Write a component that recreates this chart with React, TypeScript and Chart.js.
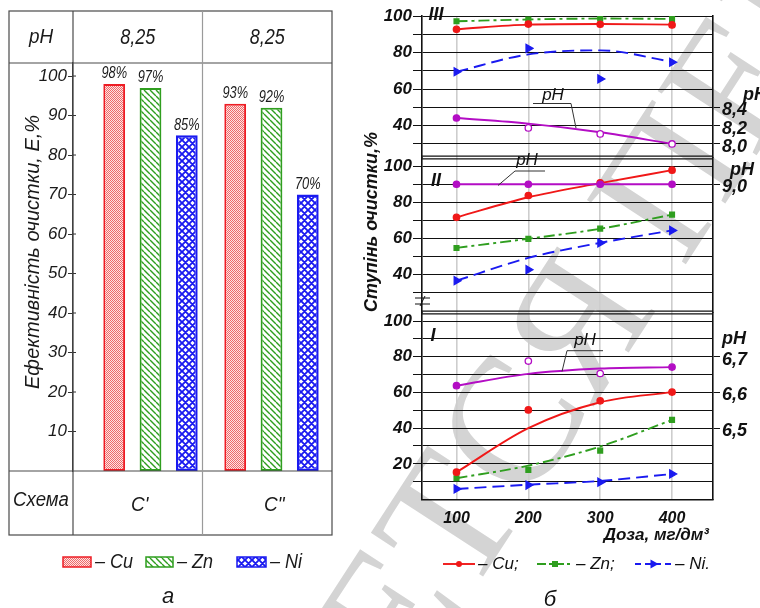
import React, { useEffect, useRef } from 'react';
import { Chart, registerables } from 'chart.js';
Chart.register(...registerables);

const SANS = '"Liberation Sans", Arial, Helvetica, sans-serif';
const SERIF = '"Liberation Serif", "DejaVu Serif", serif';

// ===== Panel а (bar chart) =====
const schemes = ["С'", 'С"'];
const phValues = ['8,25', '8,25'];
const metals = ['Cu', 'Zn', 'Ni'];
const cuEfficiency = [98, 93];
const znEfficiency = [97, 92];
const niEfficiency = [85, 70];
const efficiencyTicks = [10, 20, 30, 40, 50, 60, 70, 80, 90, 100];

// ===== Panel б (dose curves) =====
const doses = [100, 200, 300, 400];

// Region III
const cuIII = [92.7, 95.6, 95.5, 95.1];
const cuIIIfit = [92.7, 95.3, 95.6, 95.3];
const znIII = [97.1, 98.0, 98.7, 98.4];
const znIIIfit = [97.1, 98.1, 98.6, 98.4];
const niIII = [69.5, 82.3, 65.6, 74.7];
const niIIIfit = [69.5, 79.0, 81.2, 75.0];
const phIII = [8.284, 8.176, 8.11, 8.0];
const phIIIfit = [8.284, 8.222, 8.128, 8.002];
// Region II
const cuII = [71.7, 83.8, 90.8, 97.8];
const cuIIfit = [71.7, 82.8, 90.6, 97.8];
const znII = [54.8, 59.8, 65.5, 73.2];
const znIIfit = [54.8, 59.9, 65.4, 73.2];
const niII = [36.7, 42.8, 57.6, 64.5];
const niIIfit = [36.7, 49.3, 57.6, 64.5];
const phII = [9.0, 9.0, 9.0, 9.0];
const phIIfit = [9.0, 9.0, 9.0, 9.0];
// Region I
const cuI = [15.3, 50.2, 55.3, 60.2];
const cuIfit = [15.3, 40.0, 54.5, 60.2];
const znI = [11.9, 16.6, 27.4, 44.6];
const znIfit = [11.9, 19.0, 29.7, 44.6];
const niI = [5.9, 8.1, 9.7, 14.3];
const niIfit = [5.9, 8.3, 10.4, 14.3];
const phI = [6.619, 6.688, 6.653, 6.671];
const phIfit = [6.619, 6.652, 6.667, 6.671];

// axes
const doseRange = [52, 457];
const rangeIII = [22.6, 100];
const rangeII = [19.1, 104.8];
const rangeI = [0, 104.8];
const gridIII = [30, 40, 50, 60, 70, 80, 90, 100];
const gridII = [30, 40, 50, 60, 70, 80, 90, 100];
const gridI = [10, 20, 30, 40, 50, 60, 70, 80, 90, 100];
const phRangeIII = [7.852, 9.4];
const phRangeII = [8.291, 9.148];
const phRangeI = [6.3, 6.824];
const phTicksIII = [8.0, 8.2, 8.4];
const phTicksII = [9.0];
const phTicksI = [6.5, 6.6, 6.7];

const RED = '#f01818';
const GREEN = '#2f9e1f';
const BLUE = '#1a1af0';
const MAG = '#b30dc4';

function pat(kind: string, color: string): any {
  const c = document.createElement('canvas');
  const g = c.getContext('2d') as CanvasRenderingContext2D;
  if (kind === 'dots') {
    c.width = 2; c.height = 2;
    g.fillStyle = '#fde4e4'; g.fillRect(0, 0, 2, 2);
    g.fillStyle = '#ee6a6a'; g.fillRect(0, 0, 1, 1); g.fillRect(1, 1, 1, 1);
  } else {
    const s = kind === 'hatch' ? 6 : 7;
    c.width = s; c.height = s;
    g.fillStyle = '#ffffff'; g.fillRect(0, 0, s, s);
    g.strokeStyle = color; g.lineWidth = kind === 'hatch' ? 1.4 : 1.9;
    g.beginPath();
    for (let k = -1; k <= 1; k++) {
      g.moveTo(k * s, 0); g.lineTo(k * s + s, s);
      if (kind === 'cross') { g.moveTo(k * s + s, 0); g.lineTo(k * s, s); }
    }
    g.stroke();
  }
  return g.createPattern(c, 'repeat');
}

function txt(ctx: any, s: string, x: number, y: number, font: string, align = 'center', sx = 1, color = '#1a1a1a') {
  ctx.save();
  ctx.font = font; ctx.fillStyle = color; ctx.textAlign = align; ctx.textBaseline = 'middle';
  ctx.translate(x, y); ctx.scale(sx, 1); ctx.fillText(s, 0, 0);
  ctx.restore();
}
function seg(ctx: any, x1: number, y1: number, x2: number, y2: number) {
  ctx.beginPath(); ctx.moveTo(x1, y1); ctx.lineTo(x2, y2); ctx.stroke();
}

function leftConfig(): any {
  const pats = [pat('dots', RED), pat('hatch', GREEN), pat('cross', BLUE)];
  const borders = ['#ee1c24', GREEN, BLUE];
  const values = [cuEfficiency, znEfficiency, niEfficiency];
  const tablePlugin = {
    id: 'tableA',
    afterDraw(chart: any) {
      const ctx = chart.ctx; const ca = chart.chartArea; const ys = chart.scales.y;
      const top = ca.top - 52, bottom = ca.bottom + 64, left = ys.left, right = ca.right;
      const mid = (ca.left + ca.right) / 2;
      const colCenters = [(ca.left + mid) / 2, (mid + ca.right) / 2];
      ctx.save();
      ctx.strokeStyle = '#4a4a4a'; ctx.lineWidth = 1.2;
      ctx.strokeRect(left, top, right - left, bottom - top);
      seg(ctx, left, ca.top, right, ca.top);
      seg(ctx, left, ca.bottom, right, ca.bottom);
      seg(ctx, ca.left, top, ca.left, bottom);
      ctx.strokeStyle = '#9a9a9a';
      seg(ctx, mid, top, mid, bottom);
      // inner part of tick marks
      ctx.strokeStyle = '#333'; ctx.lineWidth = 1;
      for (const t of ys.ticks) {
        const y = ys.getPixelForValue(t.value);
        seg(ctx, ca.left, y, ca.left + 3, y);
      }
      // header / footer rows
      const it = (n: number) => `italic ${n}px ${SANS}`;
      txt(ctx, 'pH', (left + ca.left) / 2, (top + ca.top) / 2, it(21), 'center', 0.9);
      phValues.forEach((v, i) => txt(ctx, v, colCenters[i], (top + ca.top) / 2 + 1, it(22), 'center', 0.82));
      txt(ctx, 'Схема', (left + ca.left) / 2, ca.bottom + 29, it(20), 'center', 0.93);
      schemes.forEach((s, i) => txt(ctx, s, colCenters[i] + 2 + i * 5, ca.bottom + 34, it(20), 'center', 0.95));
      // value labels
      chart.data.datasets.forEach((ds: any, di: number) => {
        const meta = chart.getDatasetMeta(di);
        meta.data.forEach((el: any, i: number) => {
          txt(ctx, `${ds.data[i]}%`, el.x, el.y - 10, it(16), 'center', 0.8);
        });
      });
      // y title
      ctx.save();
      ctx.translate(33, 252); ctx.rotate(-Math.PI / 2);
      txt(ctx, 'Ефективність очистки, Е,%', 0, 0, it(20));
      ctx.restore();
      // legend
      const sw = [[63, 28], [146, 27], [237, 29]];
      metals.forEach((m, i) => {
        ctx.fillStyle = pats[i];
        ctx.fillRect(sw[i][0], 557, sw[i][1], 10);
        ctx.strokeStyle = borders[i]; ctx.lineWidth = 1.5;
        ctx.strokeRect(sw[i][0], 557, sw[i][1], 10);
        txt(ctx, `– ${m}`, sw[i][0] + sw[i][1] + 4, 562, it(20), 'left', 0.9);
      });
      txt(ctx, 'а', 168, 597, it(22));
      ctx.restore();
    },
  };
  return {
    type: 'bar',
    data: {
      labels: schemes,
      datasets: metals.map((m, i) => ({
        label: m, data: values[i], xAxisID: 'x', yAxisID: 'y',
        backgroundColor: pats[i], borderColor: borders[i],
        borderWidth: i === 2 ? 2.4 : 2, borderSkipped: false,
        categoryPercentage: 0.9, barPercentage: 0.6,
      })),
    },
    options: {
      responsive: false, animation: false, devicePixelRatio: 1,
      layout: { padding: { left: 9, right: 13, top: 63, bottom: 0 } },
      plugins: { legend: { display: false }, tooltip: { enabled: false } },
      scales: {
        x: {
          type: 'category', position: 'bottom', stack: 'B', stackWeight: 242, weight: 1,
          grid: { display: false, drawTicks: false }, border: { display: false },
          ticks: { display: false },
          afterFit: (s: any) => { s.height = 137; },
        },
        xpad: {
          type: 'linear', position: 'bottom', stack: 'B', stackWeight: 17, weight: 0,
          grid: { display: false, drawTicks: false }, border: { display: false },
          ticks: { display: false },
          afterFit: (s: any) => { s.height = 137; },
        },
        y: {
          min: 0, max: 103.3,
          afterBuildTicks: (s: any) => { s.ticks = efficiencyTicks.map((v) => ({ value: v })); },
          grid: { drawOnChartArea: false, tickLength: 5, color: '#333' },
          border: { color: '#333', width: 1.2 },
          ticks: { autoSkip: false, color: '#1a1a1a', font: { family: SANS, size: 17, style: 'italic' }, padding: 1 },
          afterFit: (s: any) => { s.width = 64; },
        },
      },
    },
    plugins: [tablePlugin],
  };
}

const xy = (vals: number[]) => doses.map((d, i) => ({ x: d, y: vals[i] }));

const styles: any = {
  cu: { color: RED, dash: [], ps: 'circle', r: 3.2, rot: 0 },
  zn: { color: GREEN, dash: [11, 4, 3, 4], ps: 'rect', r: 3.4, rot: 0 },
  ni: { color: BLUE, dash: [12, 6], ps: 'triangle', r: 4.6, rot: 90 },
  ph: { color: MAG, dash: [], ps: 'circle', r: 3.2, rot: 0 },
};

function series(kind: string, axis: string, pts: number[], fit: number[], fills?: string[]) {
  const st = styles[kind];
  return [
    {
      type: 'line', data: xy(pts), yAxisID: axis, showLine: false,
      pointStyle: st.ps, pointRotation: st.rot, pointRadius: st.r,
      pointBackgroundColor: fills || st.color, pointBorderColor: st.color, pointBorderWidth: 1.3,
    },
    {
      type: 'line', data: xy(fit), yAxisID: axis, borderColor: st.color, borderWidth: 1.9,
      borderDash: st.dash, pointRadius: 0, cubicInterpolationMode: 'monotone', fill: false,
    },
  ];
}

function rightConfig(): any {
  const bi = (n: number) => `italic bold ${n}px ${SANS}`;
  const it = (n: number) => `italic ${n}px ${SANS}`;
  const OFF = 345;
  const leftAxis = (range: number[], grid: number[], w: number, weight: number) => ({
    type: 'linear', position: 'left', stack: 'L', stackWeight: w, weight,
    min: range[0], max: range[1],
    afterBuildTicks: (s: any) => { s.ticks = grid.map((v) => ({ value: v })); },
    grid: { color: '#111', lineWidth: 1, tickLength: 9 },
    border: { color: '#111', width: 1.6 },
    ticks: {
      autoSkip: false,
      color: '#111', padding: 1, font: { family: SANS, size: 17, style: 'italic', weight: 'bold' },
      callback: (v: number) => (v % 20 === 0 ? String(v) : ''),
    },
    afterFit: (s: any) => { s.width = 60; },
  });
  const rightAxis = (range: number[], ticks: number[], w: number, weight: number) => ({
    type: 'linear', position: 'right', stack: 'R', stackWeight: w, weight,
    min: range[0], max: range[1],
    afterBuildTicks: (s: any) => { s.ticks = ticks.map((v) => ({ value: v })); },
    grid: { drawOnChartArea: false, color: '#111', tickLength: 7 },
    border: { color: '#111', width: 1.6 },
    ticks: {
      autoSkip: false, labelOffset: 3,
      color: '#111', padding: 2, font: { family: SANS, size: 18, style: 'italic', weight: 'bold' },
      callback: (v: number) => v.toFixed(1).replace('.', ','),
    },
    afterFit: (s: any) => { s.width = 40; },
  });

  const annot = {
    id: 'annB',
    afterDraw(chart: any) {
      const ctx = chart.ctx; const ca = chart.chartArea;
      const p = (x: number) => x - OFF;
      ctx.save();
      ctx.strokeStyle = '#111'; ctx.lineWidth = 1.4;
      for (const yb of [chart.scales.yIII.bottom, chart.scales.yII.bottom]) {
        seg(ctx, ca.left, yb - 1.4, ca.right, yb - 1.4);
        seg(ctx, ca.left, yb + 1.4, ca.right, yb + 1.4);
      }
      // axis break mark
      ctx.lineWidth = 1;
      seg(ctx, ca.left - 7, 298, ca.left + 8, 298);
      seg(ctx, ca.left - 7, 304, ca.left + 8, 304);
      seg(ctx, ca.left - 2, 306, ca.left + 3, 296);
      // roman numerals
      txt(ctx, 'III', p(436), 15, bi(18), 'center', 1, '#111');
      txt(ctx, 'II', p(436), 181, bi(18), 'center', 1, '#111');
      txt(ctx, 'I', p(433), 336, bi(18), 'center', 1, '#111');
      // pH callouts
      ctx.strokeStyle = '#333'; ctx.lineWidth = 1;
      txt(ctx, 'pH', p(553), 95, it(17), 'center', 1, '#111');
      seg(ctx, p(533), 103.5, p(571), 103.5); seg(ctx, p(571), 103.5, p(576), 128);
      txt(ctx, 'pH', p(527), 160, it(17), 'center', 1, '#111');
      seg(ctx, p(515), 171, p(545), 171); seg(ctx, p(515), 171, p(498), 185.5);
      txt(ctx, 'pH', p(585), 340, it(17), 'center', 1, '#111');
      seg(ctx, p(567), 350.7, p(603), 350.7); seg(ctx, p(567), 350.7, p(562), 371.5);
      // right axis titles
      txt(ctx, 'pH', p(743), 95, bi(18), 'left', 1, '#111');
      txt(ctx, 'pH', p(730), 170, bi(18), 'left', 1, '#111');
      txt(ctx, 'pH', p(722), 339, bi(18), 'left', 1, '#111');
      // axis titles
      ctx.save();
      ctx.translate(p(372), 222); ctx.rotate(-Math.PI / 2);
      txt(ctx, 'Ступінь очистки,%', 0, 0, bi(18), 'center', 1, '#111');
      ctx.restore();
      txt(ctx, 'Доза, мг/дм³', p(709), 535, bi(17), 'right', 1, '#111');
      // legend
      const ly = 564;
      const items = [
        { k: 'cu', x1: 443, x2: 475, label: '– Cu;' },
        { k: 'zn', x1: 537, x2: 573, label: '– Zn;' },
        { k: 'ni', x1: 635, x2: 672, label: '– Ni.' },
      ];
      for (const itm of items) {
        const st = styles[itm.k];
        ctx.save();
        ctx.strokeStyle = st.color; ctx.fillStyle = st.color; ctx.lineWidth = 1.9;
        ctx.setLineDash(itm.k === 'zn' ? [9, 3, 3, 3] : itm.k === 'ni' ? [6, 4] : []);
        seg(ctx, p(itm.x1), ly, p(itm.x2), ly);
        ctx.setLineDash([]);
        const cx = p((itm.x1 + itm.x2) / 2);
        ctx.beginPath();
        if (itm.k === 'cu') { ctx.arc(cx, ly, 3, 0, Math.PI * 2); }
        else if (itm.k === 'zn') { ctx.rect(cx - 3, ly - 3, 6, 6); }
        else { ctx.moveTo(cx + 5, ly); ctx.lineTo(cx - 3, ly - 4.5); ctx.lineTo(cx - 3, ly + 4.5); ctx.closePath(); }
        ctx.fill();
        ctx.restore();
        txt(ctx, itm.label, p(itm.x2 + 3), ly, it(17), 'left', 1, '#111');
      }
      txt(ctx, 'б', p(550), 600, it(22), 'center', 1, '#111');
      ctx.restore();
    },
  };

  return {
    type: 'line',
    data: {
      datasets: [
        ...series('ph', 'pIII', phIII, phIIIfit, [MAG, '#fff', '#fff', '#fff']),
        ...series('cu', 'yIII', cuIII, cuIIIfit),
        ...series('zn', 'yIII', znIII, znIIIfit),
        ...series('ni', 'yIII', niIII, niIIIfit),
        ...series('ph', 'pII', phII, phIIfit),
        ...series('cu', 'yII', cuII, cuIIfit),
        ...series('zn', 'yII', znII, znIIfit),
        ...series('ni', 'yII', niII, niIIfit),
        ...series('ph', 'pI', phI, phIfit, [MAG, '#fff', '#fff', MAG]),
        ...series('cu', 'yI', cuI, cuIfit),
        ...series('zn', 'yI', znI, znIfit),
        ...series('ni', 'yI', niI, niIfit),
      ],
    },
    options: {
      responsive: false, animation: false, devicePixelRatio: 1,
      layout: { padding: { left: 17, right: 7, top: 16, bottom: 0 } },
      plugins: { legend: { display: false }, tooltip: { enabled: false } },
      scales: {
        x: {
          type: 'linear', position: 'bottom', min: doseRange[0], max: doseRange[1],
          afterBuildTicks: (s: any) => { s.ticks = doses.map((v) => ({ value: v })); },
          grid: { color: '#cdcdcd', lineWidth: 1.6, drawTicks: false },
          border: { color: '#111', width: 1.6 },
          ticks: { autoSkip: false, color: '#111', padding: 9, font: { family: SANS, size: 16, style: 'italic', weight: 'bold' } },
          afterFit: (s: any) => { s.height = 108.5; },
        },
        yIII: leftAxis(rangeIII, gridIII, 141.5, 3),
        yII: leftAxis(rangeII, gridII, 155, 2),
        yI: leftAxis(rangeI, gridI, 187, 1),
        pIII: rightAxis(phRangeIII, phTicksIII, 141.5, 1),
        pII: rightAxis(phRangeII, phTicksII, 155, 2),
        pI: rightAxis(phRangeI, phTicksI, 187, 3),
      },
    },
    plugins: [annot],
  };
}

function drawWatermark(cv: HTMLCanvasElement) {
  const ctx = cv.getContext('2d') as CanvasRenderingContext2D;
  ctx.clearRect(0, 0, cv.width, cv.height);
  ctx.save();
  ctx.translate(408, 692);
  ctx.rotate((-57 * Math.PI) / 180);
  ctx.font = `180px ${SERIF}`;
  ctx.fillStyle = '#d4d4d4';
  ctx.textBaseline = 'alphabetic';
  ctx.fillText('ЕТСЯ ПЕР', 0, 0);
  ctx.restore();
}

export default function App() {
  const leftRef = useRef<HTMLCanvasElement>(null);
  const rightRef = useRef<HTMLCanvasElement>(null);
  const wmRef = useRef<HTMLCanvasElement>(null);
  useEffect(() => {
    if (wmRef.current) drawWatermark(wmRef.current);
    const a = new Chart(leftRef.current as HTMLCanvasElement, leftConfig());
    const b = new Chart(rightRef.current as HTMLCanvasElement, rightConfig());
    return () => { a.destroy(); b.destroy(); };
  }, []);
  return (
    <div style={{ position: 'absolute', left: 0, top: 0, width: 760, height: 608, background: '#fff', overflow: 'hidden' }}>
      <canvas ref={wmRef} width={760} height={608} style={{ position: 'absolute', left: 0, top: 0 }} />
      <canvas ref={leftRef} width={345} height={608} style={{ position: 'absolute', left: 0, top: 0, width: 345, height: 608 }} />
      <canvas ref={rightRef} width={415} height={608} style={{ position: 'absolute', left: 345, top: 0, width: 415, height: 608 }} />
    </div>
  );
}
